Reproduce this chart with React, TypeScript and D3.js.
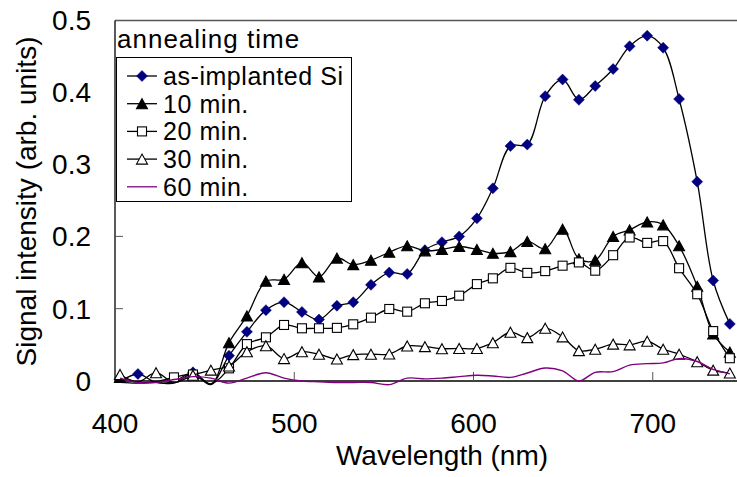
import React from "react";
import * as d3 from "d3";

// wavelength (nm) of each measured point
const wavelength = [
  402.8, 412.8, 422.9, 432.9, 443.5, 453.5, 463.6, 473.6, 484.2, 494.3, 504.3, 513.8,
  523.8, 532.9, 542.8, 553.0, 563.0, 572.9, 582.4, 592.0, 601.9, 610.8, 620.6, 630.0,
  640.0, 649.7, 658.8, 667.9, 677.9, 687.1, 696.9, 705.8, 714.7, 724.8, 733.7, 743.0,
];

const asImplanted = [
  -0.001, 0.0097, -0.002, -0.001, 0.012, -0.004, 0.035, 0.068, 0.098, 0.109, 0.0955, 0.085,
  0.104, 0.109, 0.133, 0.15, 0.148, 0.181, 0.192, 0.2, 0.225, 0.2665, 0.325, 0.327,
  0.394, 0.417, 0.389, 0.408, 0.4315, 0.463, 0.4776, 0.461, 0.39, 0.2757, 0.139, 0.079,
];
const min10 = [
  0.005, -0.002, -0.002, -0.003, 0.01, -0.005, 0.053, 0.09, 0.138, 0.1406, 0.1636, 0.144,
  0.17, 0.161, 0.167, 0.178, 0.187, 0.18, 0.182, 0.186, 0.182, 0.1766, 0.179, 0.193,
  0.183, 0.21, 0.169, 0.167, 0.2, 0.209, 0.22, 0.216, 0.187, 0.131, 0.065, 0.04,
];
const min20 = [
  -0.002, -0.003, -0.001, 0.005, 0.009, -0.004, 0.0175, 0.051, 0.0604, 0.0775, 0.0729, 0.0729,
  0.0735, 0.0784, 0.0876, 0.0996, 0.0959, 0.1075, 0.1107, 0.118, 0.134, 0.142, 0.1565, 0.1495,
  0.152, 0.1595, 0.164, 0.1526, 0.174, 0.1985, 0.191, 0.1935, 0.156, 0.12, 0.069, 0.0315,
];
const min30 = [
  0.009, -0.001, 0.0115, -0.002, 0.008, 0.015, 0.0207, 0.0405, 0.0488, 0.031, 0.0405, 0.037,
  0.0305, 0.0365, 0.037, 0.0373, 0.0484, 0.0475, 0.0447, 0.045, 0.045, 0.053, 0.0675, 0.06,
  0.073, 0.061, 0.042, 0.044, 0.051, 0.05, 0.055, 0.044, 0.037, 0.0267, 0.015, 0.011,
];
const min60 = [
  0.004, -0.002, -0.002, 0.002, 0.006, 0.004, -0.003, 0.004, 0.0115, 0.004, 0.0, -0.001,
  -0.002, -0.002, -0.002, -0.005, 0.004, 0.003, 0.004, 0.006, 0.008, 0.007, 0.005, 0.011,
  0.018, 0.014, 0.0, 0.012, 0.013, 0.022, 0.024, 0.025, 0.031, 0.027, 0.016, 0.01,
];

const seriesNames = ["as-implanted Si", "10 min.", "20 min.", "30 min.", "60 min."];
const xTicks = [400, 500, 600, 700];
const yTicks = [0, 0.1, 0.2, 0.3, 0.4, 0.5];

const font = "'Liberation Sans', Arial, sans-serif";

type Kind = "diamond" | "tri" | "square" | "triOpen" | "none";

const series: { name: string; values: number[]; kind: Kind; color: string }[] = [
  { name: seriesNames[0], values: asImplanted, kind: "diamond", color: "#000" },
  { name: seriesNames[1], values: min10, kind: "tri", color: "#000" },
  { name: seriesNames[2], values: min20, kind: "square", color: "#000" },
  { name: seriesNames[3], values: min30, kind: "triOpen", color: "#000" },
  { name: seriesNames[4], values: min60, kind: "none", color: "#800080" },
];

function Marker({ kind, x, y }: { kind: Kind; x: number; y: number }) {
  if (kind === "diamond") {
    const r = 5.5;
    return <path d={`M${x},${y - r}L${x + r},${y}L${x},${y + r}L${x - r},${y}Z`} fill="#000080" stroke="#000080" strokeWidth={0.5} />;
  }
  if (kind === "tri" || kind === "triOpen") {
    const h = 5;
    const w = 5.5;
    return (
      <path
        d={`M${x},${y - h}L${x + w},${y + h}L${x - w},${y + h}Z`}
        fill={kind === "tri" ? "#000" : "#fff"}
        stroke="#000"
        strokeWidth={1.1}
      />
    );
  }
  if (kind === "square") {
    return <rect x={x - 4.5} y={y - 4.5} width={9} height={9} fill="#fff" stroke="#000" strokeWidth={1.1} />;
  }
  return null;
}

export default function App() {
  const width = 737;
  const height = 477;
  const left = 115;
  const bottom = 381;
  const top = 19.5;

  const x = d3.scaleLinear().domain([400, 747]).range([left, width]);
  const y = d3.scaleLinear().domain([0, 0.5]).range([bottom, top]);

  const line = d3
    .line<number>()
    .x((_, i) => x(wavelength[i]))
    .y((d) => y(d))
    .curve(d3.curveCatmullRom.alpha(0.5));

  const legendRows = [76, 103.7, 131.4, 159.1, 186.8];

  return (
    <svg
      width={width}
      height={height}
      style={{ position: "absolute", left: 0, top: 0, background: "#fff" }}
      fontFamily={font}
    >
      <rect width={width} height={height} fill="#fff" />

      {/* frame */}
      <line x1={left} x2={width} y1={top + 1} y2={top + 1} stroke="#555" strokeWidth={1.5} />
      <line x1={left} x2={left} y1={top + 1} y2={bottom + 1} stroke="#000" strokeWidth={1.3} />
      <line x1={left} x2={width} y1={bottom} y2={bottom} stroke="#000" strokeWidth={1.3} />

      {yTicks.map((t) => (
        <g key={t}>
          {t > 0 && t < 0.5 && <line x1={left} x2={left + 8} y1={y(t)} y2={y(t)} stroke="#555" strokeWidth={1} />}
          <text x={91} y={y(t) + 10} fontSize={28} textAnchor="end">
            {t === 0 ? "0" : t.toFixed(1)}
          </text>
        </g>
      ))}
      {xTicks.map((t) => (
        <g key={t}>
          {t > 400 && <line x1={x(t)} x2={x(t)} y1={bottom - 9} y2={bottom} stroke="#555" strokeWidth={1} />}
          <text x={x(t)} y={433} fontSize={28} textAnchor="middle">
            {t}
          </text>
        </g>
      ))}

      <text x={442} y={465} fontSize={28} textAnchor="middle">
        Wavelength (nm)
      </text>
      <text transform="translate(36,201.5) rotate(-90)" fontSize={28} textAnchor="middle">
        Signal intensity (arb. units)
      </text>

      {/* series */}
      {series.map((s) => (
        <g key={s.name}>
          <path d={line(s.values) || ""} fill="none" stroke={s.color} strokeWidth={s.kind === "none" ? 1.4 : 1.3} />
          {s.values.map((v, i) =>
            v >= 0 ? <Marker key={i} kind={s.kind} x={x(wavelength[i])} y={y(v)} /> : null
          )}
        </g>
      ))}

      {/* legend */}
      <text x={117} y={48} fontSize={26} letterSpacing={1}>
        annealing time
      </text>
      <rect x={116.5} y={57.5} width={235} height={144} fill="#fff" stroke="#000" strokeWidth={1} />
      {series.map((s, i) => (
        <g key={s.name}>
          <line x1={127} x2={157} y1={legendRows[i]} y2={legendRows[i]} stroke={s.color} strokeWidth={1.3} />
          <Marker kind={s.kind} x={142} y={legendRows[i]} />
          <text x={163} y={legendRows[i] + 9} fontSize={25} letterSpacing={0.55}>
            {s.name}
          </text>
        </g>
      ))}
    </svg>
  );
}
